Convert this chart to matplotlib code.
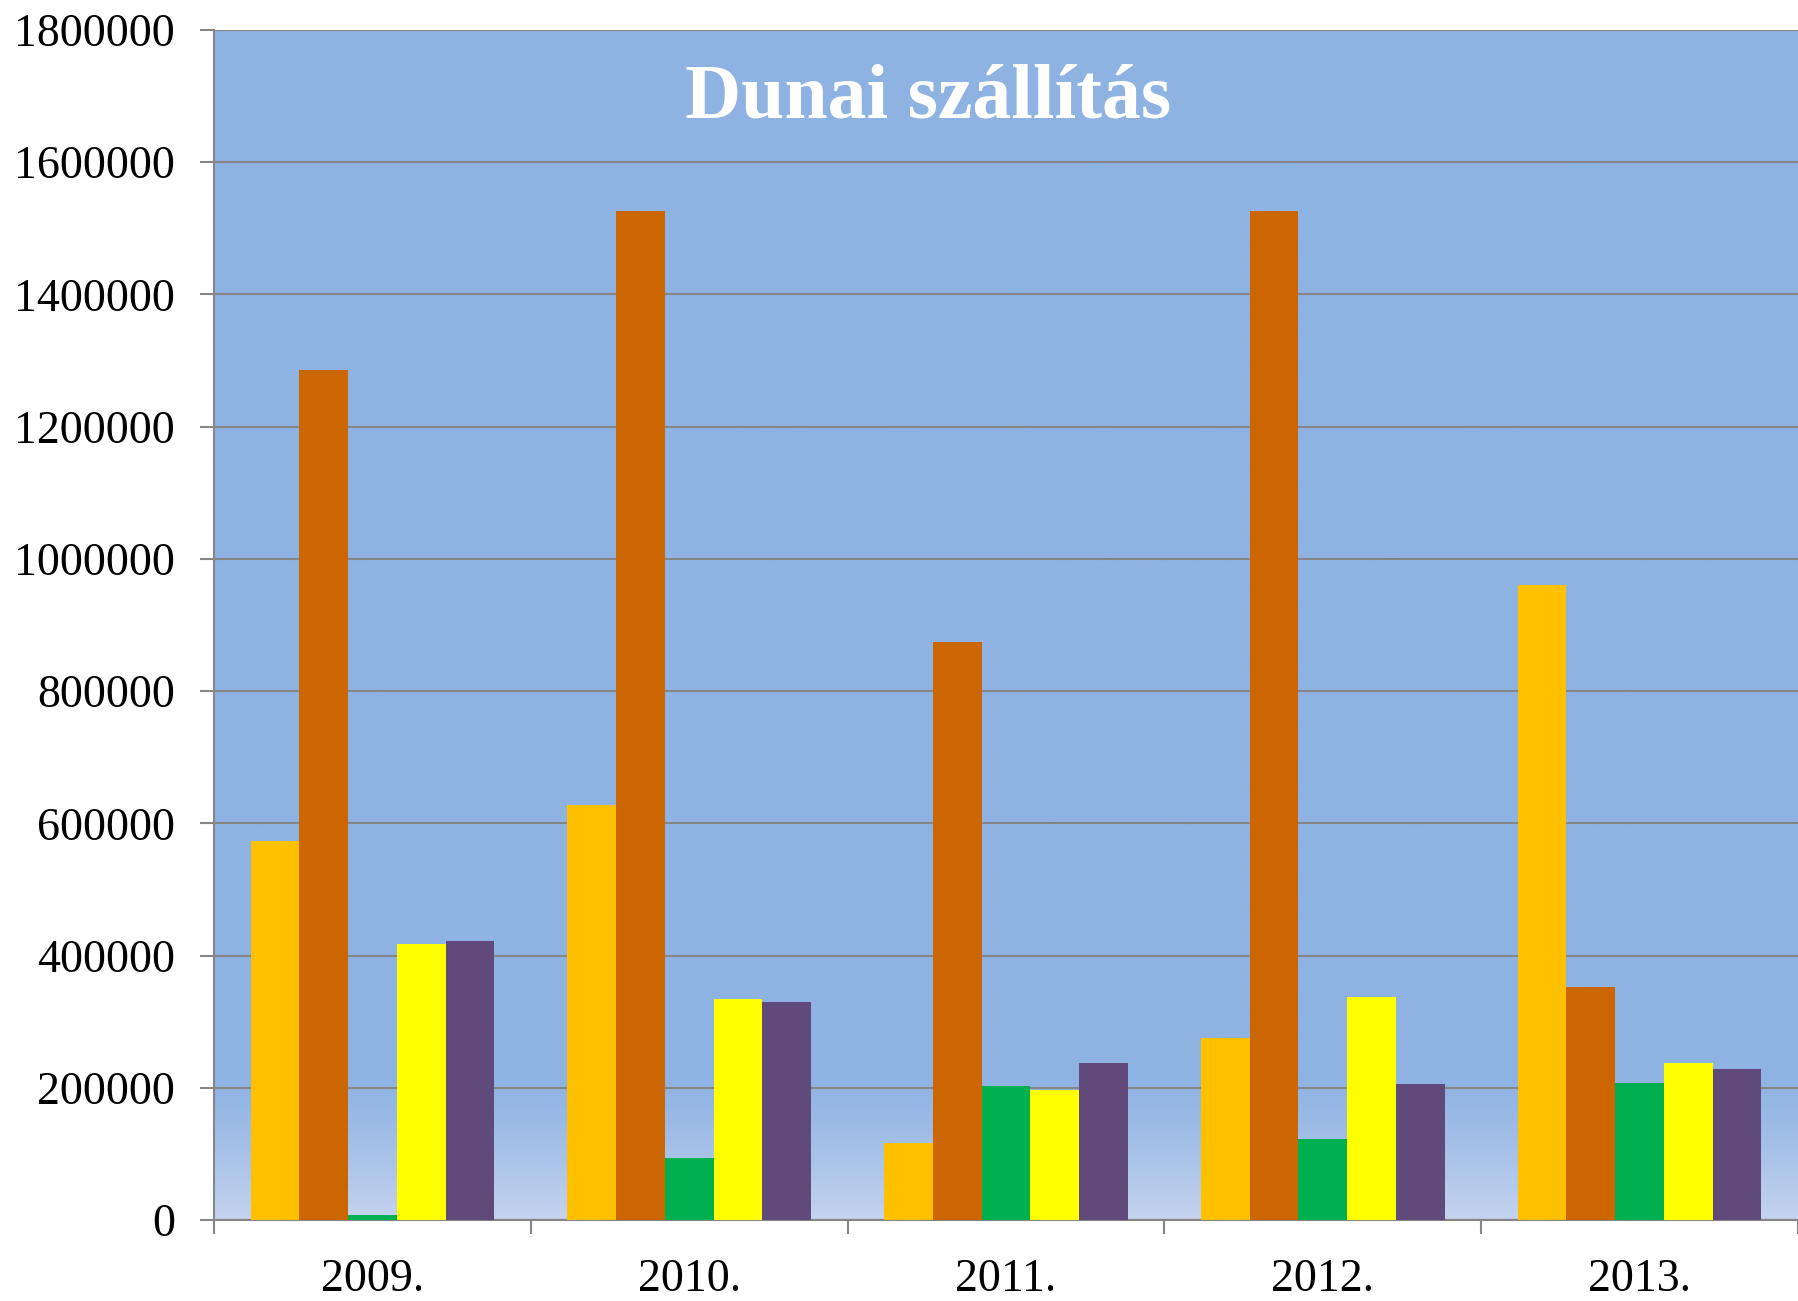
import numpy as np
import matplotlib
matplotlib.use("Agg")
import matplotlib.pyplot as plt
from matplotlib.colors import LinearSegmentedColormap

years = ["2009.", "2010.", "2011.", "2012.", "2013."]
s1 = [573000, 627000, 116000, 276000, 960000]
s2 = [1286000, 1526000, 875000, 1526000, 352000]
s3 = [7000, 94000, 203000, 122000, 207000]
s4 = [417000, 335000, 196000, 338000, 238000]
s5 = [422000, 330000, 238000, 206000, 229000]
colors = ["#FFC000", "#CC6600", "#00B050", "#FFFF00", "#604A7B"]

plt.rcParams['font.family'] = ['Liberation Serif', 'DejaVu Serif']

fig = plt.figure(figsize=(17.98, 13.01), dpi=100)
ax = fig.add_axes([214 / 1798, 1 - 1220 / 1301, (1798 - 214) / 1798, (1220 - 30) / 1301])

# background with light gradient near the bottom
ymax = 1800000
grad = np.ones((400, 1))
vals = np.linspace(ymax, 0, 400)
grad[:, 0] = np.clip((220000 - vals) / 220000, 0, 1) ** 1.3
cmap = LinearSegmentedColormap.from_list("bg", ["#8EB3E2", "#C5D3EF"])
ax.imshow(grad, extent=(-0.5, 4.5, 0, ymax), aspect="auto", cmap=cmap, vmin=0, vmax=1, zorder=0)

x = np.arange(len(years))
w = 1 / 1.3 / 5
for i, (s, c) in enumerate(zip([s1, s2, s3, s4, s5], colors)):
    ax.bar(x - 2 * w + i * w, s, width=w, color=c, zorder=3)

ax.set_xlim(-0.5, 4.455)
ax.set_ylim(0, ymax)
ax.set_yticks(np.arange(0, 1800001, 200000))
ax.set_yticklabels([str(v) for v in range(0, 1800001, 200000)])
ax.yaxis.grid(True, color="#868686", linewidth=1.5, zorder=1)
ax.set_axisbelow(False)
ax.set_xticks(np.arange(-0.5, 5, 1))
ax.set_xticklabels([])
ax.set_xticks(x, minor=True)
ax.set_xticklabels(years, minor=True)
ax.tick_params(axis="x", which="minor", length=0, pad=28, labelsize=33)
ax.tick_params(axis="x", which="major", length=10, width=1.5, color="#868686")
ax.tick_params(axis="y", length=10, width=1.5, color="#868686", pad=18, labelsize=33)
for sp in ["top", "right"]:
    ax.spines[sp].set_visible(False)
for sp in ["left", "bottom"]:
    ax.spines[sp].set_color("#868686")
    ax.spines[sp].set_linewidth(1.5)

fig.text(928 / 1798, 1 - 86 / 1301 * 1.1467, "Dunai szállítás", color="white",
         fontsize=56, fontweight="bold", ha="center", va="center")

fig.savefig("out.png", dpi=100)
